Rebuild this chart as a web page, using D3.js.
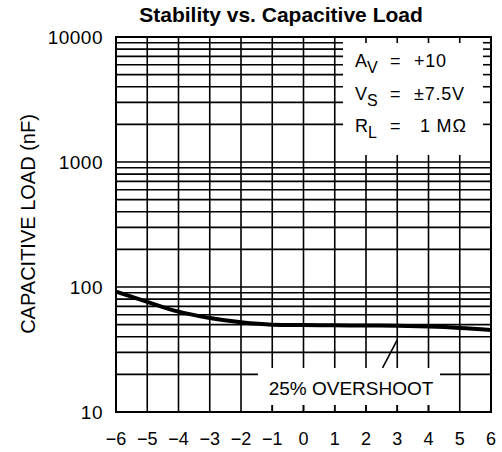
<!DOCTYPE html>
<html>
<head>
<meta charset="utf-8">
<script src="https://cdn.jsdelivr.net/npm/d3@7/dist/d3.min.js"></script>
<style>
  html, body { margin: 0; padding: 0; background: #fff; }
  svg text { font-family: "Liberation Sans", Arial, sans-serif; fill: #000; }
</style>
</head>
<body>
<svg id="chart" width="502" height="452"></svg>
<script>
// ---- data ----
const offsetVoltage = [-6, -5, -4, -3, -2, -1, 0, 1, 2, 3, 4, 5, 6];
const capacitiveLoad = [91.7, 76.0, 63.5, 56.5, 52.2, 50.0, 49.6, 49.4, 49.2, 48.9, 48.2, 47.0, 45.3];
const xTickValues = [-6, -5, -4, -3, -2, -1, 0, 1, 2, 3, 4, 5, 6];
const yTickLabels = [10, 100, 1000, 10000];
const titleText = "Stability vs. Capacitive Load";
const yTitle = "CAPACITIVE LOAD (nF)";
const curveLabel = "25% OVERSHOOT";
const leaderX = [3, 2.53];
const leaderY = [37.7, 22.5];
const conditionNames = [["A", "V"], ["V", "S"], ["R", "L"]];
const conditionValues = ["+10", "\u00B17.5V", "1 M\u03A9"];

// ---- layout ----
const svg = d3.select("#chart");
const L = 116, R = 491, T = 37, B = 412;
const x = d3.scaleLinear().domain([-6, 6]).range([L, R]);
const y = d3.scaleLog().domain([10, 10000]).range([B, T]);

const gridVals = [];
[10, 100, 1000].forEach(d => { for (let m = 1; m <= 9; m++) gridVals.push(d * m); });
gridVals.push(10000);

const g = svg.append("g");
const lw = 1.6;

// grid
g.selectAll("line.h").data(gridVals).join("line")
  .attr("x1", L).attr("x2", R)
  .attr("y1", d => y(d)).attr("y2", d => y(d))
  .attr("stroke", "#000").attr("stroke-width", lw);
g.selectAll("line.v").data(xTickValues).join("line")
  .attr("x1", d => x(d)).attr("x2", d => x(d))
  .attr("y1", T).attr("y2", B)
  .attr("stroke", "#000").attr("stroke-width", lw);

// top-right conditions box (mask)
const boxL = 343, boxT = 38, boxB = 155;
g.append("rect").attr("x", boxL).attr("y", boxT).attr("width", R - 1 - boxL).attr("height", boxB - boxT).attr("fill", "#fff");
g.selectAll("line.rt").data(gridVals.filter(v => y(v) > boxT + 2 && y(v) < boxB)).join("line")
  .attr("x1", R - 8).attr("x2", R)
  .attr("y1", d => y(d)).attr("y2", d => y(d))
  .attr("stroke", "#000").attr("stroke-width", lw);
g.selectAll("line.tt").data(xTickValues.filter(v => x(v) > boxL && x(v) < R - 2)).join("line")
  .attr("x1", d => x(d)).attr("x2", d => x(d))
  .attr("y1", T).attr("y2", T + 6)
  .attr("stroke", "#000").attr("stroke-width", lw);

// bottom label box (mask)
const lbL = 258, lbR = 440, lbT = 368, lbB = 405;
g.append("rect").attr("x", lbL).attr("y", lbT).attr("width", lbR - lbL).attr("height", lbB - lbT).attr("fill", "#fff");
g.selectAll("line.bt").data(xTickValues.filter(v => x(v) > lbL && x(v) < lbR)).join("line")
  .attr("x1", d => x(d)).attr("x2", d => x(d))
  .attr("y1", lbB).attr("y2", B)
  .attr("stroke", "#000").attr("stroke-width", lw);

// frame
g.append("rect").attr("x", L).attr("y", T).attr("width", R - L).attr("height", B - T)
  .attr("fill", "none").attr("stroke", "#000").attr("stroke-width", 2);

// curve
const pts = offsetVoltage.map((v, i) => [v, capacitiveLoad[i]]);
g.append("path").datum(pts)
  .attr("fill", "none").attr("stroke", "#000").attr("stroke-width", 4)
  .attr("d", d3.line().x(d => x(d[0])).y(d => y(d[1])).curve(d3.curveMonotoneX));

// leader line
g.append("line")
  .attr("x1", x(leaderX[0])).attr("y1", y(leaderY[0]))
  .attr("x2", x(leaderX[1])).attr("y2", y(leaderY[1]))
  .attr("stroke", "#000").attr("stroke-width", 1.6);

// curve label
g.append("text").attr("x", 351).attr("y", 395).attr("text-anchor", "middle")
  .attr("font-size", 19).text(curveLabel);

// conditions
conditionNames.forEach((nm, i) => {
  const by = 67 + i * 32.5;
  const t = g.append("text").attr("x", 355).attr("y", by).attr("font-size", 18);
  t.append("tspan").text(nm[0]);
  t.append("tspan").attr("dy", 6).attr("font-size", 16).text(nm[1]);
  g.append("text").attr("x", 390).attr("y", by).attr("font-size", 18).text("=");
  g.append("text").attr("x", i === 2 ? 420 : 414).attr("y", by).attr("font-size", 18)
    .attr("letter-spacing", 0.8).text(conditionValues[i]);
});

// axes labels
g.selectAll("text.yl").data(yTickLabels).join("text")
  .attr("x", 103).attr("y", d => y(d) + 6.5)
  .attr("text-anchor", "end").attr("font-size", 19).attr("letter-spacing", 0.5)
  .text(d => d3.format("d")(d));
g.selectAll("text.xl").data(xTickValues).join("text")
  .attr("x", d => x(d)).attr("y", 445)
  .attr("text-anchor", "middle").attr("font-size", 18)
  .text(d => d3.format("d")(d));

// y title
g.append("text").attr("transform", "translate(35,224) rotate(-90)")
  .attr("text-anchor", "middle").attr("font-size", 20).text(yTitle);

// title
g.append("text").attr("x", 281).attr("y", 22).attr("text-anchor", "middle")
  .attr("font-size", 21).attr("font-weight", "bold").text(titleText);
</script>
</body>
</html>
